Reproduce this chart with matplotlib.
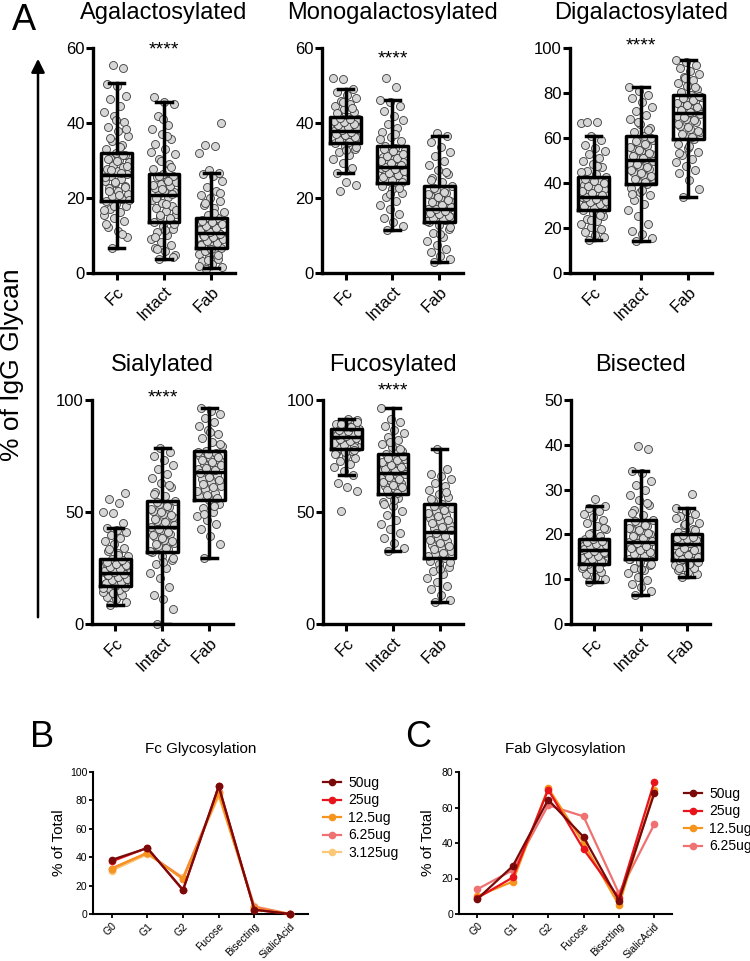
import numpy as np
import matplotlib
matplotlib.use('Agg')
import matplotlib.pyplot as plt
from matplotlib.patches import FancyArrowPatch

plt.rcParams['font.family'] = ['Liberation Sans', 'DejaVu Sans']

# ---- panel A data ----
groups = ['Fc', 'Intact', 'Fab']
titles = ['Agalactosylated', 'Monogalactosylated', 'Digalactosylated',
          'Sialylated', 'Fucosylated', 'Bisected']
y_max = [60, 60, 100, 100, 100, 50]
y_step = [20, 20, 20, 50, 50, 10]
stars = ['****', '****', '****', '****', '****', '']

# box stats per group: (whisker low, q1, median, q3, whisker high)
box_agal = [(6.7, 19.1, 26.2, 32.0, 50.7), (3.7, 13.5, 20.9, 26.5, 45.5), (1.3, 6.7, 10.7, 14.7, 26.8)]
box_mono = [(26.7, 34.8, 38.0, 41.6, 49.0), (11.6, 24.0, 28.4, 34.0, 46.2), (2.9, 13.6, 17.2, 23.1, 36.6)]
box_digal = [(14.5, 27.9, 34.0, 42.5, 60.7), (14.1, 39.7, 50.4, 60.7, 82.7), (33.6, 59.6, 71.1, 79.3, 94.8)]
box_sial = [(8.5, 17.1, 22.6, 28.9, 42.7), (0.0, 32.0, 43.2, 55.0, 78.7), (29.3, 55.4, 68.0, 77.4, 96.3)]
box_fuco = [(66.5, 78.0, 83.6, 86.9, 91.4), (32.7, 58.0, 67.6, 75.7, 96.3), (10.0, 29.6, 41.2, 53.4, 78.0)]
box_bis = [(9.3, 13.4, 16.5, 19.0, 26.4), (6.5, 14.4, 18.2, 23.2, 34.2), (10.6, 14.3, 17.9, 20.0, 25.8)]

agal_fc = [6.7, 9.5, 11.2, 12.4, 13.8, 14.6, 15.5, 16.3, 17.0, 17.8, 18.5, 19.1,
           19.8, 20.5, 21.2, 21.9, 22.6, 23.3, 24.0, 24.6, 25.2, 25.8,
           26.5, 27.1, 27.8, 28.3, 28.9, 29.5, 30.2, 30.8, 31.4, 32.0,
           33.0, 34.2, 35.3, 36.5, 37.8, 39.0, 40.2, 41.8, 43.0, 44.6, 46.3, 47.2, 50.0, 50.5, 54.7, 55.5,
           19.5, 20.8, 22.0, 23.0, 24.3, 25.5, 26.8, 27.5, 28.6, 29.8, 30.5, 31.6, 18.0, 16.8,
           33.6, 36.0, 38.4, 40.8, 13.0, 10.5]
agal_int = [3.7, 4.8, 5.9, 6.8, 7.5, 8.3, 9.2, 10.1, 11.0, 11.8, 12.6, 13.5,
            14.2, 15.0, 15.8, 16.5, 17.3, 18.0, 18.8, 19.5, 20.2, 20.9,
            21.5, 22.0, 22.6, 23.1, 23.7, 24.3, 24.9, 25.5, 26.0, 26.5,
            27.8, 29.0, 30.4, 31.8, 33.0, 34.5, 35.8, 37.2, 38.5, 39.5, 42.0, 45.0, 45.5, 47.0,
            14.6, 15.4, 16.9, 18.4, 19.9, 21.2, 22.3, 23.4, 24.6, 25.8, 13.0, 11.4, 9.7,
            28.4, 30.0, 32.4, 36.5, 6.3, 4.3, 41.0]
agal_fab = [1.0, 1.5, 2.3, 3.1, 3.8, 4.4, 5.0, 5.5, 6.0, 6.7,
            7.2, 7.8, 8.3, 8.8, 9.3, 9.8, 10.2, 10.7,
            11.2, 11.7, 12.2, 12.7, 13.2, 13.7, 14.2, 14.7,
            15.6, 16.4, 17.3, 18.2, 19.1, 20.0, 20.9, 21.8, 23.0, 24.5, 25.8, 26.5, 26.8, 27.5,
            32.0, 33.8, 34.2, 40.0,
            6.4, 7.5, 8.0, 8.6, 9.0, 9.5, 10.0, 10.5, 11.0, 11.5, 12.0, 12.5, 13.0, 13.5, 14.0,
            4.7, 3.5, 2.0, 16.0, 18.7, 21.3]

mono_fc = [21.8, 23.5, 24.4, 26.7, 28.0, 29.3, 30.5, 31.5, 32.4, 33.2, 34.0, 34.8,
           35.3, 35.8, 36.2, 36.6, 37.0, 37.4, 37.7, 38.0,
           38.4, 38.8, 39.2, 39.6, 40.0, 40.4, 40.8, 41.2, 41.6,
           42.3, 43.0, 43.8, 44.5, 45.2, 46.0, 46.8, 47.5, 48.3, 49.0, 51.8, 51.9,
           35.0, 35.6, 36.4, 36.9, 37.2, 37.6, 38.2, 38.6, 39.0, 39.4, 39.8, 40.2, 40.6, 41.0, 41.4,
           33.6, 32.8, 42.7, 44.0, 45.6]
mono_int = [11.6, 12.5, 13.5, 14.6, 15.8, 17.0, 18.2, 19.3, 20.4, 21.4, 22.3, 23.2, 24.0,
            24.6, 25.2, 25.8, 26.3, 26.9, 27.4, 27.9, 28.4,
            29.0, 29.6, 30.3, 30.9, 31.5, 32.1, 32.8, 33.4, 34.0,
            35.2, 36.3, 37.5, 38.6, 39.8, 40.9, 42.0, 43.2, 44.5, 45.5, 46.2, 49.6, 52.0,
            24.3, 24.9, 25.5, 26.1, 26.6, 27.2, 27.7, 28.2, 28.7, 29.3, 29.9, 30.6, 31.2, 31.8, 32.5, 33.1,
            22.8, 21.0, 35.8, 37.0]
mono_fab = [2.9, 3.8, 4.6, 5.5, 6.4, 7.5, 8.6, 9.7, 10.8, 11.8, 12.7, 13.6,
            14.1, 14.6, 15.0, 15.5, 15.9, 16.4, 16.8, 17.2,
            17.9, 18.6, 19.3, 20.0, 20.7, 21.4, 22.1, 23.1,
            24.2, 25.3, 26.4, 27.5, 28.7, 30.0, 31.2, 32.4, 33.5, 35.0, 36.6, 37.3,
            13.8, 14.3, 14.8, 15.3, 15.7, 16.1, 16.6, 17.0, 17.5, 18.2, 18.9, 19.6, 20.3, 21.0, 21.7, 22.6,
            12.2, 10.3, 24.8, 26.9]

digal_fc = [14.5, 15.8, 17.0, 18.3, 19.5, 20.6, 21.8, 23.0, 24.2, 25.3, 26.5, 27.9,
            28.7, 29.5, 30.3, 31.0, 31.8, 32.5, 33.3, 34.0,
            35.0, 36.1, 37.2, 38.3, 39.3, 40.4, 41.4, 42.5,
            44.0, 45.5, 47.0, 48.4, 49.8, 51.3, 52.7, 54.2, 55.6, 57.0, 59.0, 60.7, 66.8, 67.0, 67.1,
            28.3, 29.1, 29.9, 30.7, 31.4, 32.1, 32.9, 33.6, 34.5, 35.5, 36.6, 37.7, 38.8, 39.8, 40.9, 42.0,
            26.0, 23.6, 44.8, 47.7]
digal_int = [14.1, 15.5, 17.2, 18.5, 22.0, 25.5, 28.0, 30.5, 32.6, 34.5, 36.2, 38.0, 39.7,
             41.0, 42.4, 43.7, 45.0, 46.4, 47.7, 49.0, 50.4,
             51.6, 52.9, 54.1, 55.4, 56.6, 57.9, 59.2, 60.7,
             62.5, 64.5, 66.4, 68.3, 70.2, 72.0, 73.9, 75.8, 77.6, 79.2, 81.0, 82.7,
             40.3, 41.7, 43.0, 44.3, 45.7, 47.0, 48.3, 49.7, 51.0, 52.2, 53.5, 54.8, 56.0, 57.3, 58.5, 59.9,
             37.0, 35.3, 63.5, 67.3]
digal_fab = [33.6, 37.5, 41.5, 44.5, 45.8, 47.5, 49.2, 50.8, 52.5, 54.0, 55.6, 57.2, 59.6,
             61.0, 62.5, 64.0, 65.5, 67.0, 68.5, 70.0, 71.1,
             72.1, 73.1, 74.2, 75.2, 76.2, 77.3, 78.3, 79.3,
             80.5, 81.8, 83.2, 84.5, 85.8, 87.2, 88.5, 89.8, 91.2, 92.5, 93.6, 94.8,
             60.3, 61.8, 63.3, 64.8, 66.3, 67.8, 69.3, 70.6, 71.6, 72.6, 73.6, 74.7, 75.7, 76.8, 77.8, 78.8,
             56.4, 53.2, 82.5, 86.5]

sial_fc = [8.5, 9.8, 11.0, 12.0, 12.9, 13.7, 14.5, 15.2, 15.9, 16.5, 17.1,
           17.8, 18.5, 19.2, 19.9, 20.6, 21.3, 22.0, 22.6,
           23.4, 24.2, 25.0, 25.8, 26.5, 27.3, 28.1, 28.9,
           30.2, 31.5, 32.8, 34.0, 35.5, 37.0, 38.3, 39.8, 41.0, 42.0, 42.7,
           45.0, 49.4, 50.1, 53.9, 55.8, 58.3,
           17.5, 18.2, 18.9, 19.6, 20.3, 21.0, 21.7, 22.3, 23.0, 23.8, 24.6, 25.4, 26.2, 26.9, 27.7, 28.5,
           14.0, 16.2, 31.0, 33.4]
sial_int = [0.0, 6.5, 11.0, 13.0, 16.5, 20.5, 22.8, 25.0, 26.8, 28.5, 30.2, 32.0,
            33.4, 34.8, 36.2, 37.6, 39.0, 40.4, 41.8, 43.2,
            44.7, 46.2, 47.7, 49.2, 50.6, 52.1, 53.5, 55.0,
            57.0, 59.0, 61.0, 63.0, 65.0, 67.0, 69.0, 71.0, 73.0, 75.0, 77.0, 78.7,
            32.7, 34.1, 35.5, 36.9, 38.3, 39.7, 41.1, 42.5, 44.0, 45.5, 47.0, 48.5, 49.9, 51.4, 52.8, 54.3,
            29.3, 27.6, 58.0, 62.0]
sial_fab = [29.3, 35.5, 39.5, 42.5, 44.5, 46.5, 48.3, 50.0, 51.7, 53.5, 55.4,
            57.0, 58.6, 60.2, 61.8, 63.3, 64.9, 66.5, 68.0,
            69.2, 70.4, 71.6, 72.8, 74.0, 75.2, 76.3, 77.4,
            79.3, 81.2, 83.0, 84.8, 86.6, 88.4, 90.2, 92.0, 93.7, 95.0, 96.3,
            56.2, 57.8, 59.4, 61.0, 62.6, 64.1, 65.7, 67.3, 68.6, 69.8, 71.0, 72.2, 73.4, 74.6, 75.8, 76.9,
            52.6, 49.1, 80.2, 85.7]

fuco_fc = [50.6, 59.4, 61.3, 63.1, 66.5, 68.5, 70.0, 71.5, 72.8, 74.0, 75.2, 76.3, 77.2, 78.0,
           78.8, 79.6, 80.4, 81.2, 82.0, 82.8, 83.6,
           84.1, 84.6, 85.0, 85.5, 86.0, 86.5, 86.9,
           87.4, 87.9, 88.4, 88.9, 89.4, 89.9, 90.4, 91.0, 91.4,
           78.4, 79.2, 80.0, 80.8, 81.6, 82.4, 83.2, 83.9, 84.4, 84.8, 85.3, 85.8, 86.2, 86.7,
           77.6, 76.8, 75.7, 88.1, 89.1, 90.1]
fuco_int = [32.7, 34.0, 36.0, 38.5, 40.5, 42.5, 44.5, 46.5, 48.5, 50.5, 52.5, 54.5, 56.3, 58.0,
            59.2, 60.4, 61.6, 62.8, 64.0, 65.2, 66.4, 67.6,
            68.6, 69.6, 70.6, 71.7, 72.7, 73.7, 74.7, 75.7,
            77.3, 78.9, 80.5, 82.0, 83.6, 85.2, 86.8, 88.5, 90.0, 91.5, 96.3,
            58.6, 59.8, 61.0, 62.2, 63.4, 64.6, 65.8, 67.0, 68.1, 69.1, 70.1, 71.2, 72.2, 73.2, 74.2, 75.2,
            55.4, 53.5, 78.1, 81.3]
fuco_fab = [10.0, 10.5, 13.0, 15.5, 17.0, 18.8, 20.5, 22.2, 23.8, 25.4, 26.8, 28.2, 29.6,
            31.1, 32.5, 34.0, 35.4, 36.9, 38.3, 39.8, 41.2,
            42.7, 44.2, 45.8, 47.3, 48.8, 50.3, 51.9, 53.4,
            55.0, 56.6, 58.2, 59.8, 61.4, 63.0, 64.6, 66.0, 67.0, 69.0, 78.0,
            30.4, 31.8, 33.3, 34.7, 36.2, 37.6, 39.1, 40.5, 42.0, 43.5, 45.0, 46.5, 48.0, 49.6, 51.1, 52.6,
            27.5, 24.6, 55.8, 59.0]

bis_fc = [9.3, 10.0, 10.6, 11.2, 11.7, 12.2, 12.6, 13.0, 13.4,
          13.8, 14.2, 14.6, 15.0, 15.4, 15.8, 16.2, 16.5,
          16.8, 17.1, 17.4, 17.7, 18.1, 18.4, 18.7, 19.0,
          19.7, 20.4, 21.1, 21.8, 22.5, 23.2, 23.9, 24.6, 25.3, 26.0, 26.4, 27.9,
          13.6, 14.0, 14.4, 14.8, 15.2, 15.6, 16.0, 16.4, 16.7, 17.0, 17.3, 17.6, 17.9, 18.3, 18.6, 18.9,
          12.9, 12.4, 20.1, 21.5]
bis_int = [6.5, 7.4, 8.2, 9.0, 9.8, 10.6, 11.3, 12.0, 12.6, 13.2, 13.8, 14.4,
           14.9, 15.4, 15.9, 16.3, 16.8, 17.3, 17.7, 18.2,
           18.8, 19.4, 20.0, 20.6, 21.2, 21.9, 22.5, 23.2,
           24.3, 25.4, 26.5, 27.6, 28.7, 29.8, 31.0, 32.0, 33.8, 34.2, 39.0, 39.7,
           14.6, 15.2, 15.7, 16.1, 16.6, 17.0, 17.5, 18.0, 18.5, 19.1, 19.7, 20.3, 20.9, 21.5, 22.2, 22.9,
           13.5, 12.3, 24.8, 27.1]
bis_fab = [10.6, 11.1, 11.6, 12.0, 12.4, 12.8, 13.2, 13.6, 14.0, 14.3,
           14.8, 15.3, 15.8, 16.3, 16.8, 17.3, 17.9,
           18.2, 18.5, 18.8, 19.0, 19.3, 19.6, 20.0,
           20.6, 21.3, 22.0, 22.6, 23.3, 24.0, 24.6, 25.2, 25.8, 29.0,
           14.5, 15.0, 15.5, 16.0, 16.5, 17.0, 17.6, 18.0, 18.4, 18.7, 18.9, 19.2, 19.5, 19.8,
           13.8, 13.4, 12.6, 21.0, 22.3, 23.6]

boxes = [box_agal, box_mono, box_digal, box_sial, box_fuco, box_bis]
points = [[agal_fc, agal_int, agal_fab], [mono_fc, mono_int, mono_fab],
          [digal_fc, digal_int, digal_fab], [sial_fc, sial_int, sial_fab],
          [fuco_fc, fuco_int, fuco_fab], [bis_fc, bis_int, bis_fab]]

# ---- panels B / C data ----
glycans = ['G0', 'G1', 'G2', 'Fucose', 'Bisecting', 'SialicAcid']
fc_doses = ['50ug', '25ug', '12.5ug', '6.25ug', '3.125ug']
fc_vals = [[38.1, 46.4, 17.0, 89.9, 3.0, 0.0],
           [37.0, 46.6, 16.7, 90.0, 3.0, 0.0],
           [32.0, 43.0, 24.5, 85.0, 4.0, 0.0],
           [32.0, 43.0, 25.0, 86.0, 5.0, 0.0],
           [30.5, 42.0, 26.0, 83.0, 5.5, 0.0]]
fab_doses = ['50ug', '25ug', '12.5ug', '6.25ug']
fab_vals = [[8.5, 27.0, 64.4, 43.4, 7.5, 68.0],
            [9.0, 20.6, 70.0, 36.5, 9.0, 74.5],
            [10.0, 18.3, 71.0, 40.0, 5.0, 69.7],
            [14.0, 24.7, 61.3, 55.0, 11.6, 50.6]]
dose_colors = ['#7a0a0a', '#e8141b', '#f7941d', '#ef7171', '#fbc878']

W, H = 750, 961
fig = plt.figure(figsize=(W / 100, H / 100), dpi=100)


def px_axes(left, right, top, bottom):
    return fig.add_axes([left / W, 1 - bottom / H, (right - left) / W, (bottom - top) / H])


a_pos = [(93, 235, 48, 273), (322, 463, 48, 273), (570, 712, 48, 273),
         (92, 233, 400, 624), (323, 463, 400, 624), (571, 710, 400, 624)]
star_off = [0.02, -0.02, 0.04, 0.04, 0.07, 0]

for i in range(6):
    ax = px_axes(*a_pos[i])
    for j in range(3):
        vals = np.array(points[i][j])
        n = len(vals)
        off = ((np.arange(n) * 0.618034 + 0.3) % 1 - 0.5) * 0.54
        ax.scatter(j + 1 + off, vals, s=33, facecolor='#d6d6d6', edgecolor='#3a3a3a',
                   linewidth=0.6, zorder=2, clip_on=False)
    stats = []
    for j in range(3):
        lo, q1, med, q3, hi = boxes[i][j]
        stats.append(dict(whislo=lo, q1=q1, med=med, q3=q3, whishi=hi, fliers=[]))
    lp = dict(color='black', linewidth=2.5)
    ax.bxp(stats, positions=[1, 2, 3], widths=0.65, capwidths=0.32, showfliers=False,
           boxprops=lp, whiskerprops=lp, capprops=lp, medianprops=lp,
           manage_ticks=False, zorder=3)
    ax.set_xlim(0.5, 3.5)
    ax.set_ylim(0, y_max[i])
    ax.set_yticks(np.arange(0, y_max[i] + 1, y_step[i]))
    ax.set_xticks([1, 2, 3])
    ax.set_xticklabels(groups, rotation=45, ha='right', rotation_mode='anchor', fontsize=12)
    ax.tick_params(axis='y', labelsize=12, width=2.2, length=5, pad=1)
    ax.tick_params(axis='x', width=2.2, length=5, pad=3)
    for s in ['top', 'right']:
        ax.spines[s].set_visible(False)
    for s in ['left', 'bottom']:
        ax.spines[s].set_linewidth(2.4)
    ax.text(0.5, 1 + 29 / 225, titles[i], transform=ax.transAxes, ha='center',
            va='baseline', fontsize=17)
    if stars[i]:
        ax.text(0.5, 0.97 + star_off[i], stars[i], transform=ax.transAxes, ha='center',
                va='center', fontsize=14)

fig.text(12 / W, 1 - 30 / H, 'A', fontsize=26, va='baseline')
fig.text(12 / W, 1 - 365 / H, '% of IgG Glycan', fontsize=19, rotation=90,
         ha='center', va='center')
fig.add_artist(FancyArrowPatch((38 / W, 1 - 620 / H), (38 / W, 1 - 56 / H),
                               transform=fig.transFigure, arrowstyle='-|>',
                               mutation_scale=20, lw=1.8, color='black'))

# ---- B and C ----
line_sets = [(fc_doses, fc_vals, 'Fc Glycosylation', 100, (93, 308, 772, 914), 'B', 30,
              (323, 776), 66),
             (fab_doses, fab_vals, 'Fab Glycosylation', 80, (459, 672, 772, 914), 'C', 405,
              (684, 787), 435)]
for doses, vals, title, ym, pos, letter, lx, legpos, ylab_x in line_sets:
    ax = px_axes(*pos)
    handles = []
    for k in range(len(doses)):
        h, = ax.plot(range(len(glycans)), vals[k], marker='o', markersize=4.5,
                     lw=1.6, color=dose_colors[k], label=doses[k], clip_on=False)
        handles.append(h)
    for k, h in enumerate(handles):
        h.set_zorder(10 - k)
    ax.set_xlim(-0.52, 5.5)
    ax.set_ylim(0, ym)
    ax.set_yticks(np.arange(0, ym + 1, 20))
    ax.set_xticks(range(len(glycans)))
    ax.set_xticklabels(glycans, rotation=45, ha='right', rotation_mode='anchor',
                       fontsize=7.5, family=['Liberation Sans Narrow', 'Liberation Sans'])
    ax.tick_params(axis='y', labelsize=7.5, width=1.3, length=3, pad=1)
    ax.tick_params(axis='x', width=1.3, length=3, pad=2)
    for s in ['top', 'right']:
        ax.spines[s].set_visible(False)
    for s in ['left', 'bottom']:
        ax.spines[s].set_linewidth(1.5)
    ax.set_ylabel('% of Total', fontsize=11)
    ax.yaxis.set_label_coords(-(pos[0] - ylab_x) / (pos[1] - pos[0]), 0.5)
    ax.text(0.5, 1 + 19 / 142, title, transform=ax.transAxes, ha='center',
            va='baseline', fontsize=11)
    fig.text(lx / W, 1 - 747 / H, letter, fontsize=26, va='baseline')
    ax.legend(handles=handles, loc='upper left', bbox_to_anchor=(legpos[0] / W, 1 - legpos[1] / H),
              bbox_transform=fig.transFigure, frameon=False, fontsize=10,
              handlelength=1.3, handletextpad=0.5, labelspacing=0.25, borderpad=0,
              borderaxespad=0)

fig.savefig('out.png', dpi=100)
